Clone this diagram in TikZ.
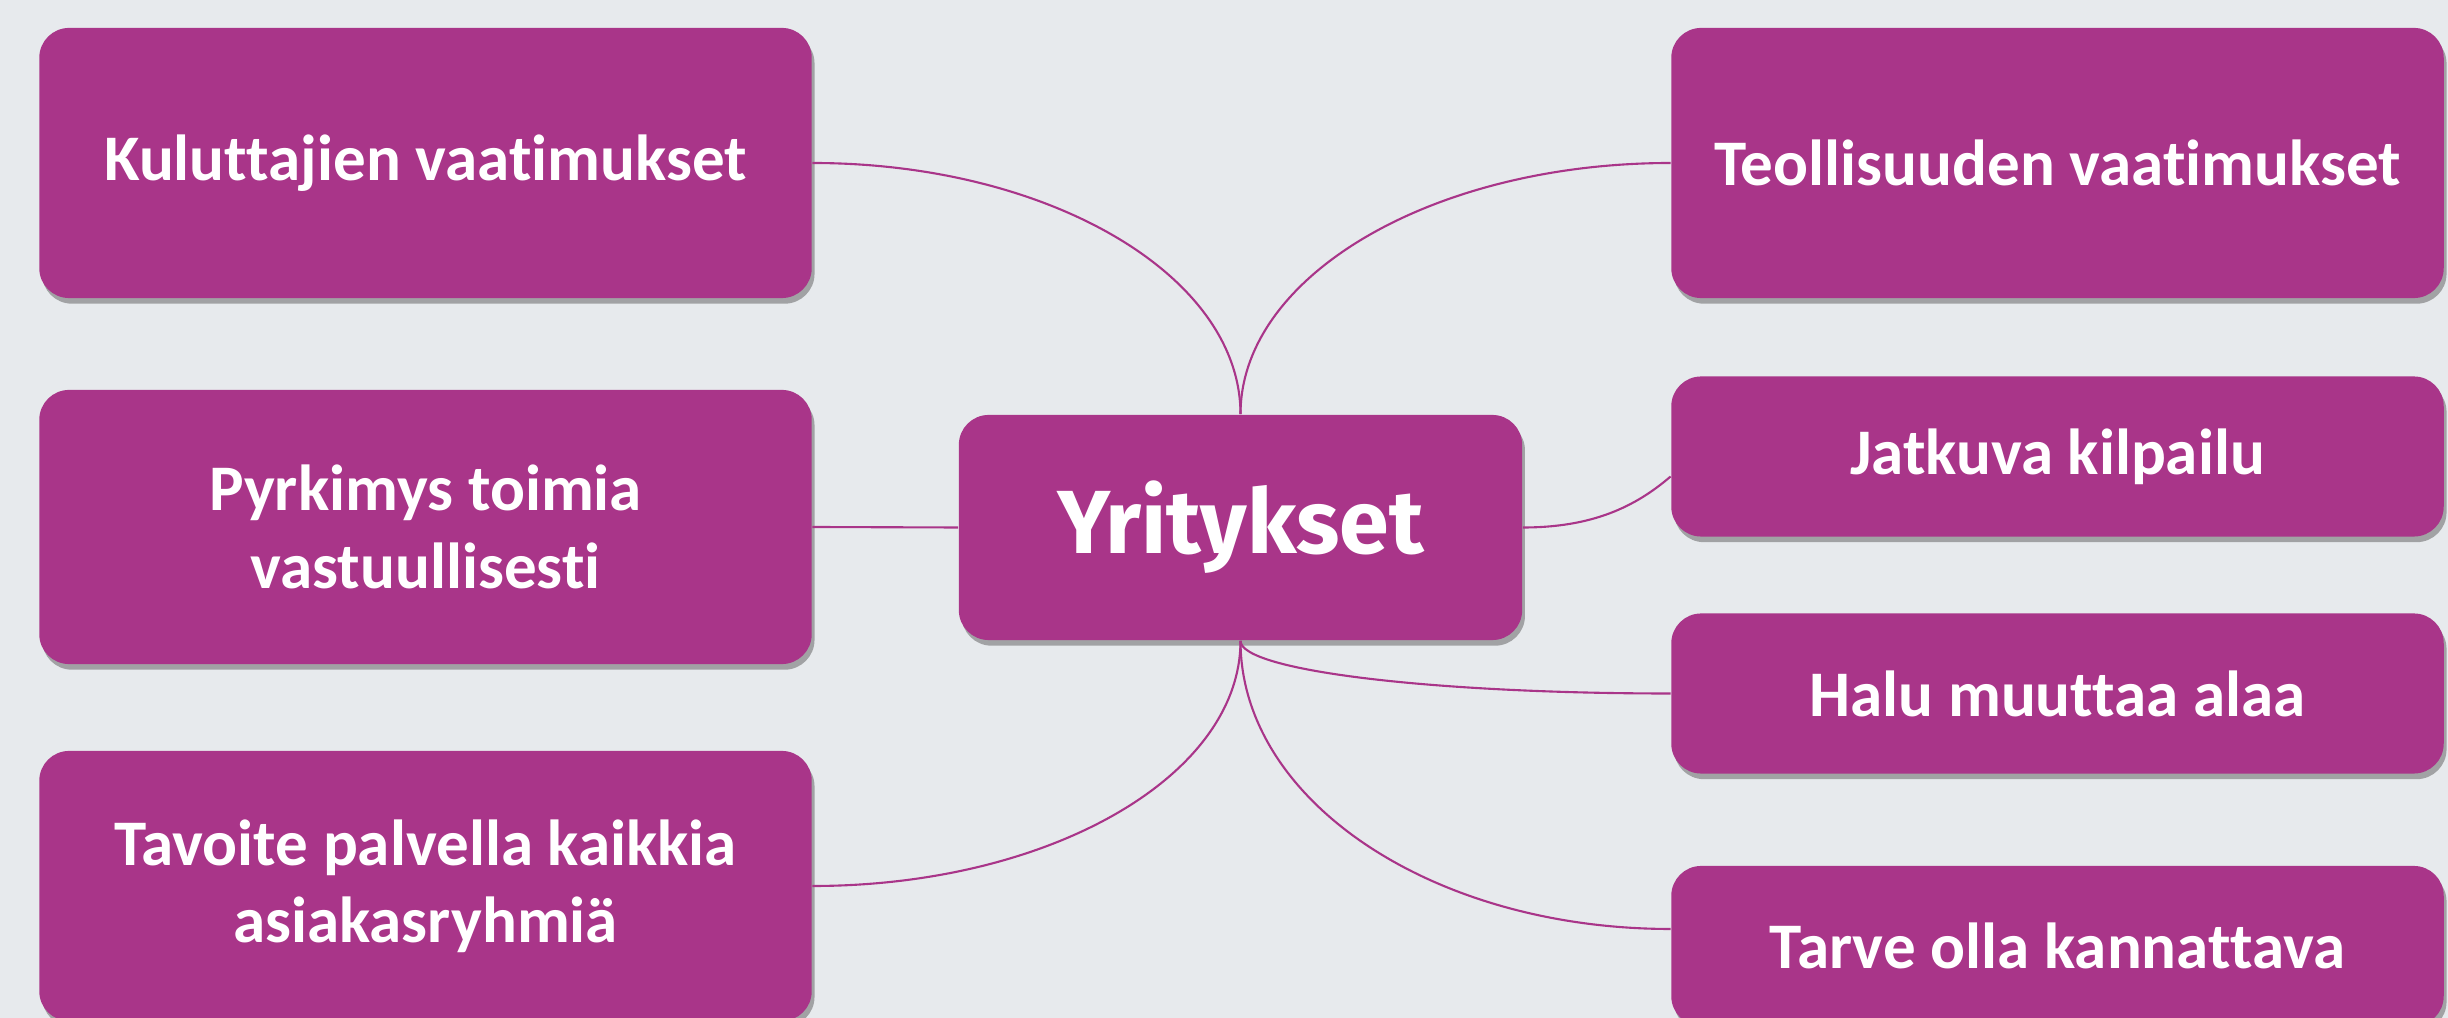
\documentclass[tikz,border=0pt]{standalone}
\usepackage{fontspec}
\setmainfont{Carlito}[Ligatures=NoCommon]
\newfontfamily\keskusfont{Fira Sans}
\usetikzlibrary{shadows}
\definecolor{luumu}{RGB}{169,53,137}
\definecolor{tausta}{RGB}{231,234,237}

\begin{document}
\begin{tikzpicture}[x=0.01cm, y=0.01cm,
  laatikko/.style={rectangle, rounded corners=8.5pt, fill=luumu, text=white,
    font=\bfseries\fontsize{18.5}{22}\selectfont, align=center, minimum width=7.72cm,
    drop shadow={opacity=0.45, fill=black!70, shadow xshift=0.8pt, shadow yshift=-1.6pt}},
  keskus/.style={minimum width=5.63cm, minimum height=2.25cm,
    font=\keskusfont\bfseries\fontsize{25.5}{30}\selectfont},
  yhteys/.style={draw=luumu, line width=0.6pt}]
\fill[tausta] (0,0) rectangle (2448,1018);
\useasboundingbox (0,0) rectangle (2448,1018);
\node[laatikko, minimum height=2.7cm] (kv) at (425.5,855) {Kuluttajien vaatimukset};
\node[laatikko, minimum height=2.74cm] (pt) at (425.5,491) {Pyrkimys toimia\\vastuullisesti};
\node[laatikko, minimum height=2.7cm] (tp) at (425.5,132) {Tavoite palvella kaikkia\\asiakasryhmiä};
\node[laatikko, minimum height=2.7cm] (tv) at (2057.5,855) {Teollisuuden vaatimukset};
\node[laatikko, minimum height=1.6cm] (jk) at (2057.5,561.5) {Jatkuva kilpailu};
\node[laatikko, minimum height=1.6cm] (hm) at (2057.5,324.5) {Halu muuttaa alaa};
\node[laatikko, minimum height=1.6cm] (tk) at (2057.5,72) {Tarve olla kannattava};
\node[laatikko, keskus] (yr) at (1240.5,490.5) {Yritykset};
\draw[yhteys] (kv.east) .. controls +(236,0) and +(0,139) .. (yr.north);
\draw[yhteys] (yr.north) .. controls +(0,139) and +(-237,0) .. (tv.west);
\draw[yhteys] (pt.east) -- (yr.west);
\draw[yhteys] (yr.east) .. controls +(70,0) and +(-35,-30) .. ([yshift=-0.2cm]jk.west);
\draw[yhteys] (yr.south) .. controls +(0,-30) and +(-238,0) .. (hm.west);
\draw[yhteys] (yr.south) .. controls +(0,-160) and +(-238,0) .. ([yshift=0.17cm]tk.west);
\draw[yhteys] (yr.south) .. controls +(0,-136) and +(236,0) .. (tp.east);
\end{tikzpicture}
\end{document}
